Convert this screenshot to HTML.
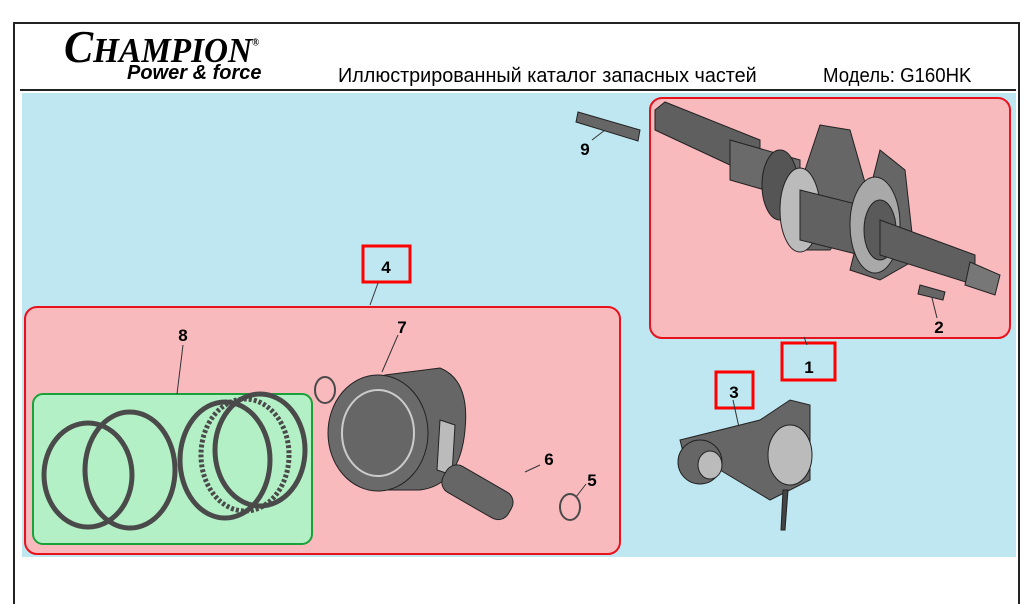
<!DOCTYPE html>
<html><head><meta charset="utf-8"><style>
body{margin:0;width:1025px;height:594px;background:#fff;overflow:hidden;position:relative;font-family:"Liberation Sans",sans-serif}
.abs{position:absolute}
</style></head><body>
<div class="abs" style="left:13px;top:22px;width:1003px;height:580px;border:2px solid #222;border-bottom:none"></div>
<div class="abs" style="left:20px;top:89px;width:996px;height:2px;background:#222"></div>
<div class="abs" style="left:22px;top:93px;width:994px;height:464px;background:#bfe7f1"></div>
<div class="abs" style="left:64px;top:20px;font:italic bold 46px 'Liberation Serif',serif;letter-spacing:0px;transform:scaleX(0.95);transform-origin:left;white-space:nowrap">C<span style="font-size:35px">HAMPION</span><sup style="font-size:10px">®</sup></div>
<div class="abs" style="left:127px;top:62px;font:italic bold 20px 'Liberation Sans',sans-serif;transform:scaleX(1.0);transform-origin:left;white-space:nowrap">Power &amp; force</div>
<div class="abs" style="left:338px;top:65px;font-size:20px;transform:scaleX(0.99);transform-origin:left;white-space:nowrap">Иллюстрированный каталог запасных частей</div>
<div class="abs" style="left:823px;top:65px;font-size:20px;transform:scaleX(0.93);transform-origin:left;white-space:nowrap">Модель: G160HK</div>
<svg class="abs" style="left:0;top:0" width="1025" height="594" font-family="Liberation Sans, sans-serif">
<rect x="650" y="98" width="360" height="240" rx="12" fill="#f9babe" stroke="#e8121c" stroke-width="2"/>
<rect x="25" y="307" width="595" height="247" rx="12" fill="#f9babe" stroke="#e8121c" stroke-width="2"/>
<rect x="33" y="394" width="279" height="150" rx="10" fill="#b4f0c6" stroke="#1aa13a" stroke-width="2"/>
<rect x="363" y="246" width="47" height="36" fill="none" stroke="#f00" stroke-width="3"/>
<rect x="782" y="343" width="53" height="37" fill="none" stroke="#f00" stroke-width="3"/>
<rect x="716" y="372" width="37" height="36" fill="none" stroke="#f00" stroke-width="3"/>
<g font-size="17" font-weight="bold" fill="#000" text-anchor="middle">
<text x="386" y="273">4</text><text x="809" y="373">1</text><text x="734" y="398">3</text>
<text x="585" y="155">9</text><text x="939" y="333">2</text><text x="183" y="341">8</text>
<text x="402" y="333">7</text><text x="549" y="465">6</text><text x="592" y="486">5</text>
</g>
<g stroke="#333" stroke-width="1" fill="none">
<line x1="378" y1="283" x2="370" y2="305"/><line x1="807" y1="345" x2="804" y2="337"/>
<line x1="733" y1="400" x2="740" y2="432"/><line x1="592" y1="140" x2="605" y2="130"/>
<line x1="937" y1="318" x2="932" y2="298"/><line x1="183" y1="345" x2="177" y2="394"/>
<line x1="398" y1="335" x2="382" y2="372"/><line x1="540" y1="465" x2="525" y2="472"/>
<line x1="586" y1="484" x2="576" y2="497"/>
</g>
<polygon points="578,112 640,130 638,141 576,122" fill="#666" stroke="#222"/>
<g stroke="#222" stroke-width="1">
<polygon points="655,110 665,102 760,140 760,175 730,165 655,130" fill="#5f5f5f"/>
<polygon points="730,140 800,160 800,200 730,180" fill="#6a6a6a"/>
<ellipse cx="780" cy="185" rx="18" ry="35" fill="#555"/>
<polygon points="820,125 850,130 870,200 830,250 800,250 790,215" fill="#666"/>
<ellipse cx="800" cy="210" rx="20" ry="42" fill="#bbb"/>
<polygon points="800,190 880,210 880,260 800,240" fill="#616161"/>
<polygon points="880,150 905,170 915,260 880,280 850,270" fill="#666"/>
<ellipse cx="875" cy="225" rx="25" ry="48" fill="#a9a9a9"/>
<ellipse cx="880" cy="230" rx="16" ry="30" fill="#5a5a5a"/>
<polygon points="880,220 975,255 975,285 880,255" fill="#5f5f5f"/>
<polygon points="970,262 1000,275 995,295 965,285" fill="#777"/>
<polygon points="920,285 945,292 943,300 918,294" fill="#666"/>
</g>
<g fill="none" stroke="#4a4a4a" stroke-width="5">
<ellipse cx="88" cy="475" rx="44" ry="52"/>
<ellipse cx="130" cy="470" rx="45" ry="58"/>
<ellipse cx="225" cy="460" rx="45" ry="58"/>
<ellipse cx="245" cy="455" rx="44" ry="56" stroke-dasharray="3 2"/>
<ellipse cx="260" cy="450" rx="45" ry="56"/>
<ellipse cx="325" cy="390" rx="10" ry="13" stroke-width="2"/>
<ellipse cx="570" cy="507" rx="10" ry="13" stroke-width="2"/>
</g>
<g stroke="#222">
<path d="M385,375 L440,368 Q470,380 465,430 Q460,485 420,490 L380,490 Z" fill="#666"/>
<ellipse cx="378" cy="433" rx="50" ry="58" fill="#6a6a6a"/>
<ellipse cx="378" cy="433" rx="36" ry="43" fill="#666" stroke="#ccc" stroke-width="2"/>
<polygon points="440,420 455,425 452,475 437,470" fill="#bbb"/>
<rect x="462" y="455" width="30" height="75" rx="12" transform="rotate(-60 477 492)" fill="#666"/>
</g>
<g stroke="#222">
<polygon points="680,440 760,420 790,400 810,405 810,480 770,500 720,470 690,480" fill="#666"/>
<ellipse cx="700" cy="462" rx="22" ry="22" fill="#666"/>
<ellipse cx="710" cy="465" rx="12" ry="14" fill="#bbb"/>
<ellipse cx="790" cy="455" rx="22" ry="30" fill="#bbb"/>
<polygon points="783,490 788,490 785,530 781,530" fill="#444"/>
</g>
</svg>
</body></html>
